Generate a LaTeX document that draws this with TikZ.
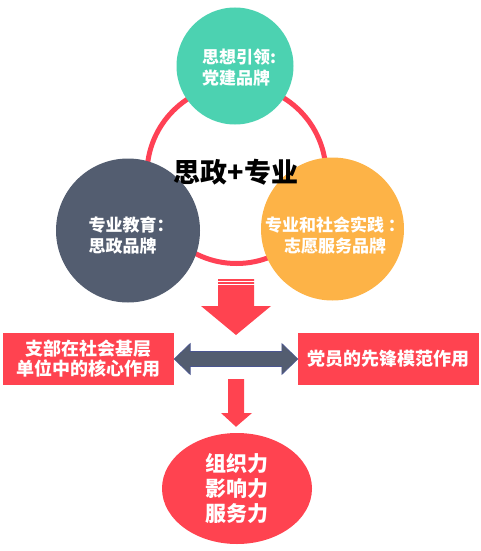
\documentclass[tikz,border=0pt]{standalone}
\usepackage{fontspec}
\setmainfont{Noto Sans CJK SC}
\usetikzlibrary{calc,shapes.geometric}

\definecolor{ringred}{HTML}{FF4155}
\definecolor{boxred}{HTML}{FF4350}
\definecolor{leadgreen}{HTML}{4CD2B1}
\definecolor{edudark}{HTML}{535D70}
\definecolor{pracorange}{HTML}{FDB347}
\definecolor{arrowedge}{HTML}{4A5590}

\tikzset{
  bubble/.style={circle,inner sep=0pt,draw=none},
  bubtxt/.style={text=white,inner sep=0pt,font=\bfseries\fontsize{17}{21}\selectfont},
  redbox/.style={fill=boxred,text=white,inner sep=0pt,minimum height=52pt,align=center,
    font=\bfseries\fontsize{18}{20}\selectfont},
}

\begin{document}
\begin{tikzpicture}[x=1pt,y=-1pt]
\useasboundingbox (0,0) rectangle (481,551);

% ring and the three bubbles
\draw[ringred,line width=5pt] (236.5,174) circle (89.5);

\node[bubble,fill=leadgreen,minimum size=117pt] (lead) at (235,66) {};
\node[bubble,fill=edudark,minimum size=144pt] (edu) at (128,230.5) {};
\node[bubble,fill=pracorange,minimum size=143pt] (prac) at (332.5,229) {};

\node[bubtxt,align=left] (leadtxt) at (239,68) {思想引领:\\党建品牌};
\node[bubtxt,align=left] (edutxt) at (131,235) {专业教育：\\思政品牌};
\node[bubtxt,align=center] (practxt) at (335,235) {专业和社会实践 ：\\志愿服务品牌};

\node[font=\bfseries\fontsize{27}{30}\selectfont] (core) at (236,172) {思政+专业};

% striped arrow down
\fill[boxred] (218,279) -- (254,279) -- (254,306) -- (271,306) -- (236,335)
  -- (201,306) -- (218,306) -- cycle;
\draw[white,line width=1.4pt] (217,281.3) -- (255,281.3);
\draw[white,line width=1.4pt] (217,284.7) -- (255,284.7);

% the two roles
\node[redbox,minimum width=171pt] (branch) at (88.5,359) {支部在社会基层\\单位中的核心作用};
\node[redbox,minimum width=181pt] (member) at (388.5,359) {党员的先锋模范作用};

\filldraw[fill=edudark,draw=arrowedge,line width=0.6pt] (branch.east) -- ++(16,-15.5) -- ++(0,8)
  -- ($(member.west)+(-16,-7.5)$) -- ++(0,-8) -- (member.west) -- ++(-16,15.5) -- ++(0,-8)
  -- ($(branch.east)+(16,7.5)$) -- ++(0,8) -- cycle;

% result
\node[ellipse,fill=boxred,text=white,inner sep=0pt,minimum width=150pt,minimum height=111pt,
  align=center,font=\bfseries\fontsize{21}{25}\selectfont] (power) at (237,488.5)
  {组织力\\影响力\\服务力};

\fill[boxred] (228,379) -- (244,379) -- (244,413) -- (252,413) -- ($(power.north)+(-1,-6)$)
  -- (221,413) -- (228,413) -- cycle;
\end{tikzpicture}
\end{document}
